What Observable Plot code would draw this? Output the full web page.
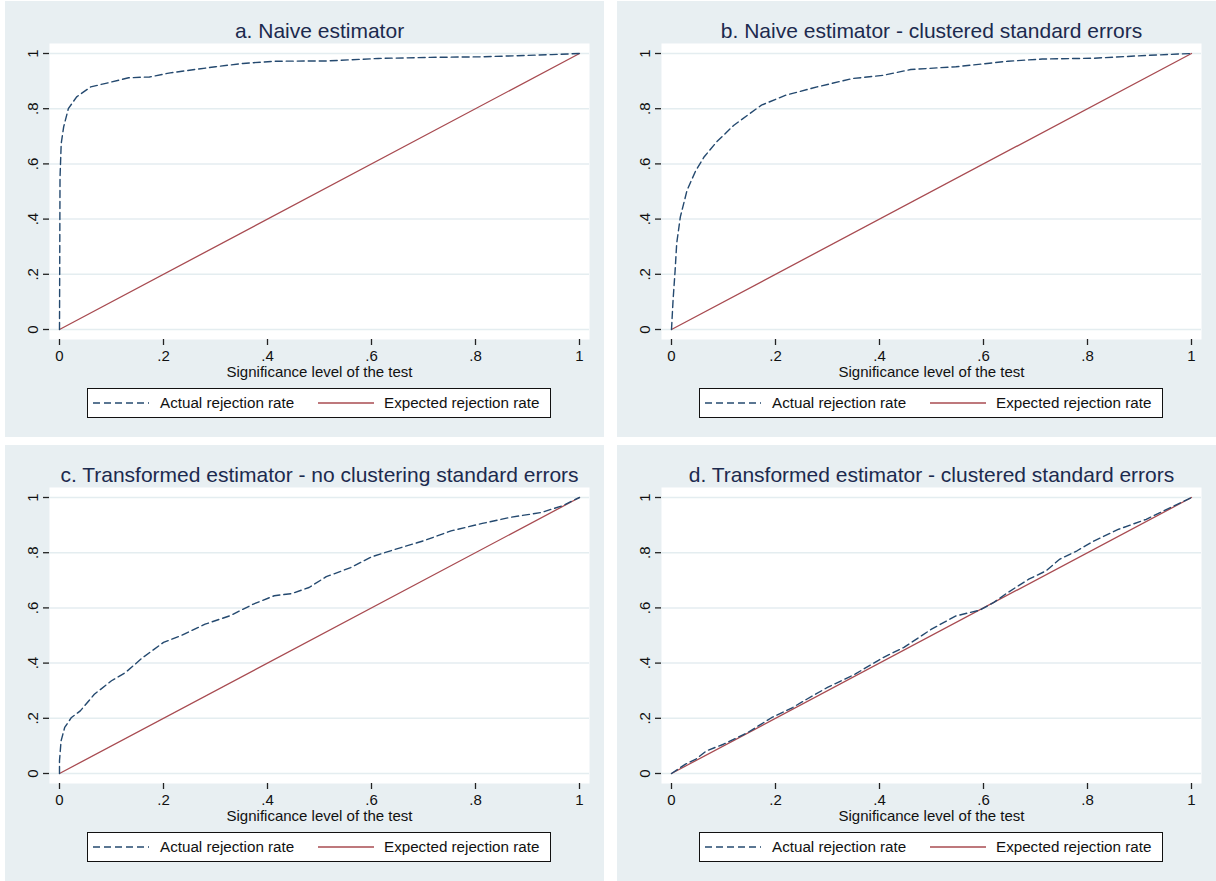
<!DOCTYPE html>
<html>
<head>
<meta charset="utf-8">
<script src="https://cdn.jsdelivr.net/npm/d3@7"></script>
<script src="https://cdn.jsdelivr.net/npm/@observablehq/plot@0.6"></script>
<style>
  body { margin: 0; background: #ffffff; font-family: "Liberation Sans", Arial, sans-serif; }
  #root { position: relative; width: 1216px; height: 881px; overflow: hidden; }
  .panel { position: absolute; width: 599px; height: 436px; background: #e8eff2; }
  .panel svg { position: absolute; left: 0; top: 0; }
  .legend { position: absolute; left: 82px; top: 387px; width: 462px; height: 28px;
            border: 1px solid #111; background: #fff; font-size: 15.2px; color: #111; }
  .legend .sw { position: absolute; top: 7px; }
  .legend .lb { position: absolute; top: 5px; white-space: nowrap; line-height: 17px; }
</style>
</head>
<body>
<div id="root"></div>
<script>
// ---- shared axis / label data ----
const tickValues = [0, 0.2, 0.4, 0.6, 0.8, 1];
const tickLabels = ["0", ".2", ".4", ".6", ".8", "1"];
const xAxisTitle = "Significance level of the test";
const legendLabels = ["Actual rejection rate", "Expected rejection rate"];
const panelTitles = [
  "a. Naive estimator",
  "b. Naive estimator - clustered standard errors",
  "c. Transformed estimator - no clustering standard errors",
  "d. Transformed estimator - clustered standard errors"
];

// expected rejection rate = significance level (45-degree line)
const expectedSig = [0, 1];
const expectedRej = [0, 1];

// ---- actual rejection rate ----
const sigA = [0, 0.001, 0.0033, 0.008, 0.017, 0.033, 0.06, 0.087, 0.133, 0.173, 0.213, 0.30, 0.353, 0.413, 0.513, 0.613, 0.713, 0.813, 0.88, 0.947, 1];
const rejA = [0, 0.55, 0.674, 0.734, 0.80, 0.843, 0.879, 0.891, 0.912, 0.915, 0.930, 0.952, 0.964, 0.972, 0.973, 0.982, 0.986, 0.988, 0.992, 0.996, 1];

const sigB = [0, 0.003, 0.007, 0.01, 0.017, 0.03, 0.047, 0.063, 0.087, 0.12, 0.173, 0.22, 0.28, 0.347, 0.407, 0.46, 0.547, 0.647, 0.713, 0.813, 0.913, 1];
const rejB = [0, 0.106, 0.215, 0.312, 0.408, 0.505, 0.577, 0.626, 0.68, 0.74, 0.813, 0.849, 0.879, 0.909, 0.921, 0.942, 0.952, 0.972, 0.98, 0.983, 0.993, 1];

const sigC = [0, 0, 0.003, 0.01, 0.023, 0.04, 0.067, 0.1, 0.127, 0.16, 0.2, 0.233, 0.28, 0.327, 0.373, 0.413, 0.447, 0.48, 0.513, 0.56, 0.6, 0.647, 0.70, 0.753, 0.813, 0.867, 0.927, 0.967, 1];
const rejC = [0, 0.046, 0.118, 0.167, 0.203, 0.227, 0.287, 0.336, 0.366, 0.42, 0.475, 0.499, 0.541, 0.571, 0.614, 0.644, 0.652, 0.674, 0.713, 0.746, 0.785, 0.813, 0.843, 0.879, 0.906, 0.928, 0.946, 0.97, 1];

const sigD = [0, 0.027, 0.047, 0.067, 0.1, 0.147, 0.193, 0.233, 0.26, 0.3, 0.353, 0.407, 0.447, 0.5, 0.547, 0.593, 0.62, 0.647, 0.687, 0.72, 0.747, 0.78, 0.813, 0.86, 0.913, 0.96, 1];
const rejD = [0, 0.034, 0.052, 0.082, 0.106, 0.149, 0.203, 0.239, 0.269, 0.312, 0.36, 0.42, 0.457, 0.523, 0.571, 0.592, 0.62, 0.656, 0.704, 0.734, 0.777, 0.807, 0.843, 0.885, 0.921, 0.964, 1];

const panels = [
  {title: panelTitles[0], sig: sigA, rej: rejA, left: 5,   top: 1},
  {title: panelTitles[1], sig: sigB, rej: rejB, left: 617, top: 1},
  {title: panelTitles[2], sig: sigC, rej: rejC, left: 5,   top: 445},
  {title: panelTitles[3], sig: sigD, rej: rejD, left: 617, top: 445}
];

const NAVY = "#24496f";
const MAROON = "#a84b51";
const GRID = "#e4edf0";
const AXIS = "#222";
const TITLE = "#1c2a4e";
const DASH = "7,4";
const fmt = d => tickLabels[tickValues.findIndex(t => Math.abs(t - d) < 1e-9)];

const root = document.getElementById("root");

for (const p of panels) {
  const div = document.createElement("div");
  div.className = "panel";
  div.style.left = p.left + "px";
  div.style.top = p.top + "px";
  root.appendChild(div);

  const actual = p.sig.map((s, i) => ({sig: s, rej: p.rej[i]}));
  const expected = expectedSig.map((s, i) => ({sig: s, rej: expectedRej[i]}));

  const chart = Plot.plot({
    width: 599,
    height: 436,
    marginLeft: 44, marginRight: 15, marginTop: 42, marginBottom: 98,
    insetLeft: 10, insetRight: 10, insetTop: 10, insetBottom: 10,
    style: {background: "transparent", fontFamily: "'Liberation Sans', Arial, sans-serif", fontSize: "15px", color: "#111", overflow: "visible"},
    x: {domain: [0, 1]},
    y: {domain: [0, 1]},
    marks: [
      Plot.frame({fill: "white", stroke: null}),
      Plot.gridY(tickValues, {stroke: GRID, strokeOpacity: 1, strokeWidth: 1.5}),
      Plot.axisX(tickValues, {tickFormat: fmt, tickSize: 6, tickPadding: 5, label: null, line: true, stroke: AXIS, strokeWidth: 1.3}),
      Plot.axisY(tickValues, {tickFormat: fmt, tickSize: 6, tickPadding: 6, tickRotate: -90, label: null, line: true, stroke: AXIS, strokeWidth: 1.3}),
      Plot.line(expected, {x: "sig", y: "rej", stroke: MAROON, strokeWidth: 1.3}),
      Plot.line(actual, {x: "sig", y: "rej", stroke: NAVY, strokeWidth: 1.4, strokeDasharray: DASH}),
      Plot.text([p.title], {frameAnchor: "top", dy: -6, lineAnchor: "bottom", fontSize: 21, fill: TITLE}),
      Plot.text([xAxisTitle], {frameAnchor: "bottom", dy: 37, fontSize: 15, fill: "#111"})
    ]
  });
  div.appendChild(chart);

  // legend box
  const lg = d3.select(div).append("div").attr("class", "legend");
  const sw1 = lg.append("svg").attr("class", "sw").attr("width", 56).attr("height", 14).style("left", "5px");
  sw1.append("line").attr("x1", 0).attr("x2", 56).attr("y1", 7).attr("y2", 7)
     .attr("stroke", NAVY).attr("stroke-width", 1.4).attr("stroke-dasharray", DASH);
  lg.append("span").attr("class", "lb").style("left", "72px").text(legendLabels[0]);
  const sw2 = lg.append("svg").attr("class", "sw").attr("width", 56).attr("height", 14).style("left", "230px");
  sw2.append("line").attr("x1", 0).attr("x2", 56).attr("y1", 7).attr("y2", 7)
     .attr("stroke", MAROON).attr("stroke-width", 1.3);
  lg.append("span").attr("class", "lb").style("left", "296px").text(legendLabels[1]);
}
</script>
</body>
</html>
